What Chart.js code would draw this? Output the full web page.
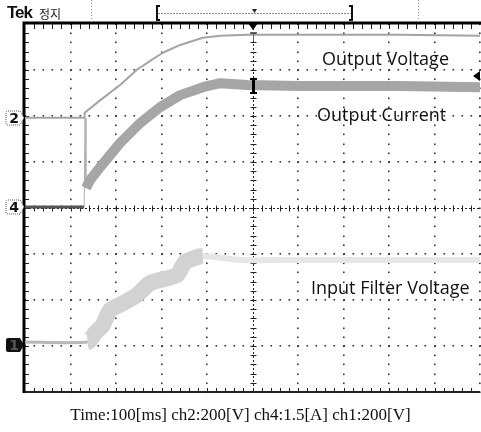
<!DOCTYPE html>
<html><head><meta charset="utf-8">
<script src="https://cdn.jsdelivr.net/npm/chart.js@4"></script>
<style>
html,body{margin:0;padding:0;background:#fff;}
#wrap{position:relative;width:481px;height:432px;overflow:hidden;background:#fff;}
#c{position:absolute;left:0;top:0;}
.t{position:absolute;white-space:nowrap;color:#111;line-height:1;}
.lbl{font-family:"Open Sans",sans-serif;font-size:18px;color:#111;}
</style></head><body>
<div id="wrap">
<canvas id="c" width="481" height="432"></canvas>
<div class="t" style="left:7px;top:3px;font:bold 17px 'Liberation Sans',Arial,sans-serif;letter-spacing:-1px">Tek</div>
<div class="t" style="left:39px;top:5px;font:12px 'Noto Sans CJK KR',sans-serif;color:#222">정지</div>
<div class="t lbl" style="left:322px;top:49px">Output Voltage</div>
<div class="t lbl" style="left:317px;top:105px">Output Current</div>
<div class="t lbl" style="left:311px;top:278px">Input Filter Voltage</div>
<div class="t" style="left:0;width:481px;top:405px;text-align:center;font:17px 'Liberation Serif','Times New Roman',serif;color:#111">Time:100[ms] ch2:200[V] ch4:1.5[A] ch1:200[V]</div>
</div>
<script>
// ---- data (time in ms, values in physical units) ----
const outVoltageTime = [0,130,131,165,209,246,275,303,341,391,429,488,604,824,1000];
const outVoltage     = [0,0,22,76,143,209,248,283,317,348,357,361,361,361,357];      // V (ch2)
const outCurrentTime = [0,130,132,134,143,165,209,253,297,341,391,429,488,604,824,1000];
const outCurrent     = [0,0,2.90,0.62,0.88,1.30,2.09,2.74,3.26,3.65,3.91,4.04,3.98,3.95,3.95,3.91]; // A (ch4)
const inFilterTime   = [0,138,154,171,187,220,246,275,334,352,391,473,604,824,1000];
const inFilter       = [13,13,52,87,152,187,217,270,304,361,387,370,370,370,370];    // V (ch1)

// channel scales (units per division) and ground offsets (divisions)
const CH2_SCALE = 200, CH4_SCALE = 1.5, CH1_SCALE = 200;
const CH2_OFF = 1.96, CH4_OFF = 0.02, CH1_OFF = -2.98;

const toPts = (ts, vs, scale, off) => ts.map((t,i)=>({x:t, y: off + vs[i]/scale}));

const cv = document.getElementById('c');

const graticule = {
  id:'graticule',
  beforeDatasetsDraw(chart){
    const {ctx, chartArea:a, scales:{x,y}} = chart;
    ctx.save();
    ctx.fillStyle = '#333';
    for(let i=1;i<=10;i++){
      if(i===5) continue;
      const px = Math.round(x.getPixelForValue(i*100));
      for(let v=-4; v<=4.001; v+=0.2){
        const py = y.getPixelForValue(v);
        ctx.fillRect(px-1, Math.round(py)-0.5, 1.6, 1.6);
      }
    }
    for(let j=-3;j<=3;j++){
      if(j===0) continue;
      const py = Math.round(y.getPixelForValue(j));
      for(let t=0; t<=1000.1; t+=20){
        const px = x.getPixelForValue(t);
        ctx.fillRect(Math.round(px)-0.5, py-1, 1.6, 1.6);
      }
    }
    ctx.strokeStyle = '#222'; ctx.lineWidth = 1;
    const cy = Math.round(y.getPixelForValue(0))+0.5;
    const cx = Math.round(x.getPixelForValue(500))+0.5;
    ctx.setLineDash([2,2]);
    ctx.beginPath(); ctx.moveTo(a.left,cy); ctx.lineTo(a.right,cy); ctx.stroke();
    ctx.beginPath(); ctx.moveTo(cx,a.top); ctx.lineTo(cx,a.bottom); ctx.stroke();
    ctx.setLineDash([]);
    ctx.beginPath();
    for(let t=20; t<1000; t+=20){
      const px = Math.round(x.getPixelForValue(t))+0.5;
      ctx.moveTo(px,cy-3); ctx.lineTo(px,cy+3);
      ctx.moveTo(px,a.top); ctx.lineTo(px,a.top+5);
      ctx.moveTo(px,a.bottom); ctx.lineTo(px,a.bottom-4);
    }
    for(let v=-3.8; v<4; v+=0.2){
      const py = Math.round(y.getPixelForValue(v))+0.5;
      ctx.moveTo(cx-3,py); ctx.lineTo(cx+3,py);
      ctx.moveTo(a.left,py); ctx.lineTo(a.left+4,py);
    }
    ctx.stroke();
    ctx.strokeStyle = '#000';
    ctx.lineWidth = 3;
    ctx.beginPath(); ctx.moveTo(a.left-1, a.bottom+1); ctx.lineTo(a.left-1, a.top-1); ctx.lineTo(a.right+1, a.top-1); ctx.stroke();
    ctx.lineWidth = 2;
    ctx.strokeStyle = '#222';
    ctx.beginPath(); ctx.moveTo(a.left, a.bottom); ctx.lineTo(a.right, a.bottom); ctx.stroke();
    ctx.restore();
  },
  afterDatasetsDraw(chart){
    const {ctx, chartArea:a, scales:{x,y}} = chart;
    ctx.save();
    const cx = Math.round(x.getPixelForValue(500));
    ctx.fillStyle = '#000';
    ctx.beginPath(); ctx.moveTo(cx-5,a.top-1); ctx.lineTo(cx+5,a.top-1); ctx.lineTo(cx,a.top+6); ctx.closePath(); ctx.fill();
    ctx.fillStyle = '#666';
    ctx.fillRect(cx-3,a.top+8,7,1); ctx.fillRect(cx,a.top+8,1,9);
    const iy = y.getPixelForValue(CH4_OFF + 3.95/CH4_SCALE);
    ctx.fillStyle = '#000';
    ctx.fillRect(cx-1, iy-8, 3, 16);
    ctx.fillRect(cx-3, iy-8, 7, 2); ctx.fillRect(cx-3, iy+6, 7, 2);
    ctx.beginPath(); ctx.moveTo(473,76); ctx.lineTo(480,71); ctx.lineTo(480,81); ctx.closePath(); ctx.fill();
    const marker = (label, off, filled) => {
      const py = Math.round(y.getPixelForValue(off));
      ctx.beginPath();
      ctx.moveTo(8,py-7); ctx.lineTo(20,py-7); ctx.lineTo(24,py); ctx.lineTo(20,py+7); ctx.lineTo(8,py+7);
      ctx.quadraticCurveTo(6,py+7,6,py+5); ctx.lineTo(6,py-5); ctx.quadraticCurveTo(6,py-7,8,py-7); ctx.closePath();
      if(filled){ ctx.fillStyle='#111'; ctx.fill(); }
      else { ctx.fillStyle='#fff'; ctx.fill(); ctx.strokeStyle='#555'; ctx.lineWidth=1; ctx.setLineDash([1,1]); ctx.stroke(); ctx.setLineDash([]); }
      ctx.fillStyle = filled ? '#555' : '#111';
      ctx.font = 'bold 14px "DejaVu Sans", sans-serif';
      ctx.textAlign='center'; ctx.textBaseline='middle';
      ctx.fillText(label, 14, py+1);
    };
    marker('2', CH2_OFF, false);
    marker('4', CH4_OFF, false);
    marker('1', CH1_OFF, true);
    ctx.strokeStyle = '#111'; ctx.lineWidth = 2;
    ctx.beginPath();
    ctx.moveTo(160,6); ctx.lineTo(157,6); ctx.lineTo(157,20); ctx.lineTo(160,20);
    ctx.moveTo(349,6); ctx.lineTo(352,6); ctx.lineTo(352,20); ctx.lineTo(349,20);
    ctx.stroke();
    ctx.strokeStyle = '#888'; ctx.lineWidth = 1; ctx.setLineDash([2,1]);
    ctx.beginPath(); ctx.moveTo(158,13.5); ctx.lineTo(351,13.5); ctx.stroke();
    ctx.strokeStyle = '#999'; ctx.setLineDash([1,2]);
    ctx.beginPath(); ctx.moveTo(91.5,0); ctx.lineTo(91.5,22); ctx.moveTo(418.5,0); ctx.lineTo(418.5,22); ctx.stroke();
    ctx.setLineDash([]);
    ctx.fillStyle = '#222';
    ctx.beginPath(); ctx.moveTo(252,9); ctx.lineTo(257,9); ctx.lineTo(254.5,13); ctx.closePath(); ctx.fill();
    ctx.restore();
  }
};

new Chart(cv, {
  type:'scatter',
  data:{datasets:[
    {label:'Input Filter Voltage', data: toPts(inFilterTime,inFilter,CH1_SCALE,CH1_OFF), showLine:true,
     borderColor:'#d6d6d6', borderWidth:6, pointRadius:0, tension:0.2, borderJoinStyle:'round',
     segment:{
       borderWidth: c => c.p0DataIndex===0 ? 3 : (c.p0DataIndex<10 ? 16 : 6),
       borderColor: c => c.p0DataIndex===0 ? '#b8b8b8' : (c.p0DataIndex<10 ? '#d2d2d2' : '#e6e6e6')
     }},
    {label:'Output Current', data: toPts(outCurrentTime,outCurrent,CH4_SCALE,CH4_OFF), showLine:true,
     borderColor:'#a4a4a4', borderWidth:10, pointRadius:0, tension:0, borderJoinStyle:'round',
     segment:{
       borderWidth: c => c.p0DataIndex===0 ? 3 : (c.p0DataIndex<3 ? 1 : 10),
       borderColor: c => c.p0DataIndex===0 ? '#555' : (c.p0DataIndex<3 ? '#b0b0b0' : '#a6a6a6')
     }},
    {label:'Output Voltage', data: toPts(outVoltageTime,outVoltage,CH2_SCALE,CH2_OFF), showLine:true,
     borderColor:'#a4a4a4', borderWidth:2, pointRadius:0, tension:0, borderJoinStyle:'round'}
  ]},
  options:{
    responsive:false, devicePixelRatio:1, animation:false,
    layout:{padding:{left:25,top:24,right:1,bottom:40}},
    plugins:{legend:{display:false}, tooltip:{enabled:false}},
    scales:{
      x:{type:'linear', min:0, max:1000, display:false},
      y:{type:'linear', min:-4, max:4, display:false}
    }
  },
  plugins:[graticule]
});
</script>
</body></html>
